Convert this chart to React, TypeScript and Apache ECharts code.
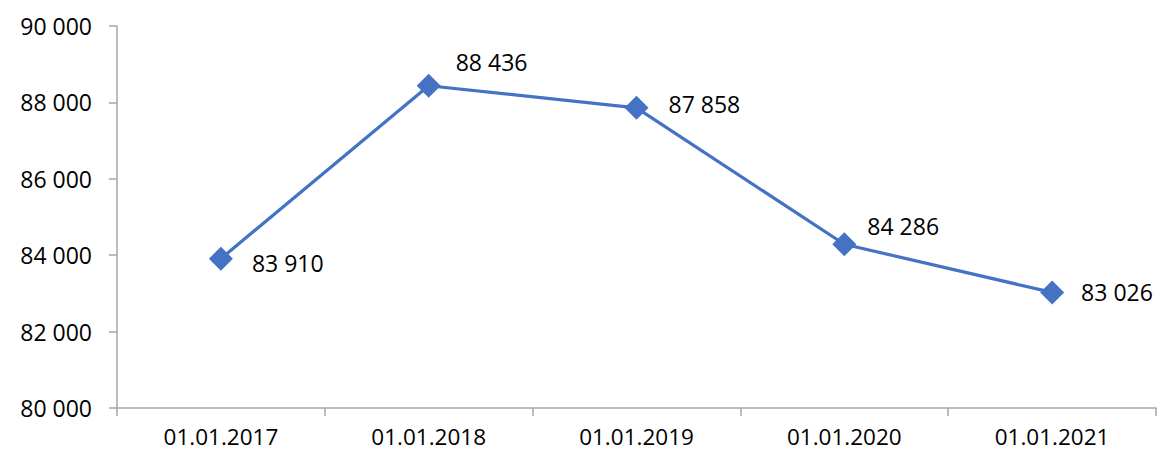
import React, { useEffect, useRef } from "react";
import * as echarts from "echarts";

const categories = ["01.01.2017", "01.01.2018", "01.01.2019", "01.01.2020", "01.01.2021"];
const values = [83910, 88436, 87858, 84286, 83026];
const labelOffsets: [number, number][] = [
  [19, 4],
  [15, -24],
  [20, -4],
  [11, -18],
  [17, 0],
];

const fmt = (v: number) => {
  const s = String(Math.round(v));
  return s.replace(/\B(?=(\d{3})+(?!\d))/g, " ");
};

export default function App() {
  const ref = useRef<HTMLDivElement>(null);
  useEffect(() => {
    if (!ref.current) return;
    const chart = echarts.init(ref.current, null, { renderer: "svg" });
    const font = "'Open Sans', 'Noto Sans', sans-serif";
    chart.setOption({
      animation: false,
      backgroundColor: "#ffffff",
      grid: { left: 117, right: 2, top: 26, bottom: 45, containLabel: false },
      xAxis: {
        type: "category",
        data: categories,
        boundaryGap: true,
        axisLine: { show: true, lineStyle: { color: "#A6A6A6", width: 1.5 } },
        axisTick: { show: true, length: 8, lineStyle: { color: "#A6A6A6", width: 1.5 } },
        axisLabel: {
          color: "#000",
          fontSize: 22.5,
          lineHeight: 22,
          fontFamily: font,
          margin: 17,
        },
        splitLine: { show: false },
      },
      yAxis: {
        type: "value",
        min: 80000,
        max: 90000,
        interval: 2000,
        axisLine: { show: true, lineStyle: { color: "#A6A6A6", width: 1.5 } },
        axisTick: { show: true, length: 8, lineStyle: { color: "#A6A6A6", width: 1.5 } },
        axisLabel: {
          color: "#000",
          fontSize: 23,
          fontFamily: font,
          margin: 25,
          formatter: (v: number) => fmt(v),
        },
        splitLine: { show: false },
      },
      series: [
        {
          type: "line",
          data: values.map((v, i) => ({
            value: v,
            label: {
              offset: labelOffsets[i],
            },
          })),
          symbol: "diamond",
          symbolSize: 24,
          lineStyle: { color: "#4472C4", width: 3.2 },
          itemStyle: { color: "#4472C4" },
          label: {
            show: true,
            position: "right",
            distance: 0,
            color: "#000",
            fontSize: 23,
            fontFamily: font,
            formatter: (p: any) => fmt(p.value),
          },
        },
      ],
    });
    return () => chart.dispose();
  }, []);
  return (
    <div
      ref={ref}
      style={{ position: "absolute", left: 0, top: 0, width: 1158, height: 453 }}
    />
  );
}
